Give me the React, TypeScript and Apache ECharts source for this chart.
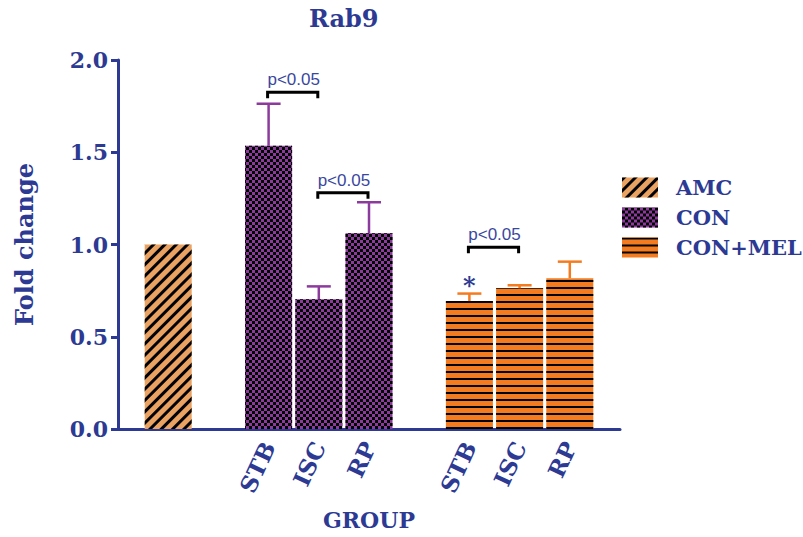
import React, { useEffect, useRef } from "react";
import * as echarts from "echarts";

// Category slots along the x axis (blank slots separate the groups)
const categories = ["", "AMC", "", "STB", "ISC", "RP", "", "STB", "ISC", "RP", ""];
const tickLabels = ["", "", "", "STB", "ISC", "RP", "", "STB", "ISC", "RP", ""];

const amcSlots = [1];
const amcMeans = [1.0];

const conSlots = [3, 4, 5];
const conMeans = [1.535, 0.703, 1.061];
const conErrors = [0.228, 0.07, 0.168];

const melSlots = [7, 8, 9];
const melMeans = [0.694, 0.763, 0.817];
const melErrors = [0.04, 0.016, 0.09];

// Significance brackets: [from slot, to slot, height]
const brackets = [
  [3, 4, 1.825],
  [4, 5, 1.281],
  [7, 8, 0.985],
];
const bracketText = "p<0.05";

// Asterisk marker: [slot, height]
const asterisks = [[7, 0.78]];

const BLUE = "#2c3a93";
const PURPLE = "#8c3a9c";
const ORANGE = "#f47b20";
const TAN = "#e9a262";
const SERIF = "'DejaVu Serif', serif";

function place(slots: number[], values: number[]) {
  const out: (number | string)[] = categories.map(() => "-");
  slots.forEach((s, i) => {
    out[s] = values[i];
  });
  return out;
}

export default function App() {
  const ref = useRef<HTMLDivElement>(null);

  useEffect(() => {
    if (!ref.current) return;
    const chart = echarts.init(ref.current, undefined, { renderer: "svg" });

    const errorRender = (color: string) => (params: any, api: any) => {
      const x = api.value(0);
      const mean = api.value(1);
      const err = api.value(2);
      const base = api.coord([x, mean]);
      const top = api.coord([x, mean + err]);
      const half = 12;
      return {
        type: "group",
        children: [
          {
            type: "line",
            shape: { x1: base[0], y1: base[1], x2: top[0], y2: top[1] },
            style: { stroke: color, lineWidth: 2.5 },
          },
          {
            type: "line",
            shape: { x1: top[0] - half, y1: top[1], x2: top[0] + half, y2: top[1] },
            style: { stroke: color, lineWidth: 2.5 },
          },
        ],
      };
    };

    const option: any = {
      animation: false,
      title: {
        text: "Rab9",
        left: 304,
        top: 1,
        textStyle: { fontFamily: SERIF, fontWeight: "bold", fontSize: 24, color: BLUE },
      },
      grid: { left: 118, right: 183, top: 60, bottom: 108 },
      legend: {
        orient: "vertical",
        left: 617,
        top: 172,
        itemWidth: 36,
        itemHeight: 20,
        itemGap: 9,
        icon: "rect",
        data: ["AMC", "CON", "CON+MEL"],
        textStyle: {
          fontFamily: SERIF,
          fontWeight: "bold",
          fontSize: 21,
          color: BLUE,
          padding: [0, 0, 0, 13],
        },
      },
      xAxis: {
        type: "category",
        data: categories,
        boundaryGap: false,
        name: "GROUP",
        nameLocation: "middle",
        nameGap: 80,
        nameTextStyle: { fontFamily: SERIF, fontWeight: "bold", fontSize: 22, color: BLUE },
        axisLine: { lineStyle: { color: BLUE, width: 3 } },
        axisTick: { show: false },
        axisLabel: {
          interval: 0,
          rotate: 65,
          margin: 14,
          fontFamily: SERIF,
          fontWeight: "bold",
          fontSize: 23,
          color: BLUE,
          formatter: (_v: string, i: number) => tickLabels[i],
        },
        splitLine: { show: false },
      },
      yAxis: {
        type: "value",
        min: 0,
        max: 2,
        interval: 0.5,
        name: "Fold change",
        nameLocation: "middle",
        nameGap: 82,
        nameTextStyle: { fontFamily: SERIF, fontWeight: "bold", fontSize: 24, color: BLUE },
        axisLine: { show: true, lineStyle: { color: BLUE, width: 3 } },
        axisTick: { show: true, length: 7, lineStyle: { color: BLUE, width: 3 } },
        axisLabel: {
          margin: 10,
          fontFamily: SERIF,
          fontWeight: "bold",
          fontSize: 22,
          color: BLUE,
          formatter: (v: number) => v.toFixed(1),
        },
        splitLine: { show: false },
      },
      series: [
        {
          name: "AMC",
          type: "bar",
          barWidth: 47,
          barGap: "-100%",
          data: place(amcSlots, amcMeans),
          itemStyle: {
            color: TAN,
            decal: {
              symbol: "rect",
              symbolSize: 1,
              color: "#000",
              dashArrayX: [1, 0],
              dashArrayY: [2.5, 4.5],
              rotation: -Math.PI / 4,
            },
          },
        },
        {
          name: "CON",
          type: "bar",
          barWidth: 47,
          barGap: "-100%",
          data: place(conSlots, conMeans),
          itemStyle: {
            color: PURPLE,
            decal: {
              symbol: "rect",
              symbolSize: 1,
              color: "#000",
              dashArrayX: [
                [3, 3],
                [0, 3, 3, 0],
              ],
              dashArrayY: [3, 0],
              rotation: 0,
            },
          },
        },
        {
          name: "CON+MEL",
          type: "bar",
          barWidth: 47,
          barGap: "-100%",
          data: place(melSlots, melMeans),
          itemStyle: {
            color: ORANGE,
            decal: {
              symbol: "rect",
              symbolSize: 1,
              color: "#000",
              dashArrayX: [1, 0],
              dashArrayY: [2, 5],
              rotation: 0,
            },
          },
        },
        {
          name: "CON error",
          type: "custom",
          encode: { x: 0, y: [1, 2] },
          data: conSlots.map((s, i) => [s, conMeans[i], conErrors[i]]),
          renderItem: errorRender(PURPLE),
          z: 5,
        },
        {
          name: "CON+MEL error",
          type: "custom",
          encode: { x: 0, y: [1, 2] },
          data: melSlots.map((s, i) => [s, melMeans[i], melErrors[i]]),
          renderItem: errorRender(ORANGE),
          z: 5,
        },
        {
          name: "brackets",
          type: "custom",
          encode: { x: [0, 1], y: 2 },
          data: brackets,
          renderItem: (params: any, api: any) => {
            const a = api.coord([api.value(0), api.value(2)]);
            const b = api.coord([api.value(1), api.value(2)]);
            const drop = 6;
            return {
              type: "group",
              children: [
                {
                  type: "polyline",
                  shape: {
                    points: [
                      [a[0] - 1, a[1] + drop],
                      [a[0] - 1, a[1]],
                      [b[0] - 1, b[1]],
                      [b[0] - 1, b[1] + drop],
                    ],
                  },
                  style: { stroke: "#000", lineWidth: 3, fill: null },
                },
                {
                  type: "text",
                  x: (a[0] + b[0]) / 2,
                  y: a[1] - 4,
                  style: {
                    text: bracketText,
                    fill: "#3a47a0",
                    font: "17px 'Liberation Sans', Arial, sans-serif",
                    textAlign: "center",
                    textVerticalAlign: "bottom",
                  },
                },
              ],
            };
          },
          z: 6,
        },
        {
          name: "asterisks",
          type: "custom",
          encode: { x: 0, y: 1 },
          data: asterisks,
          renderItem: (params: any, api: any) => {
            const p = api.coord([api.value(0), api.value(1)]);
            return {
              type: "text",
              x: p[0],
              y: p[1],
              style: {
                text: "*",
                fill: BLUE,
                font: "bold 24px 'DejaVu Serif', serif",
                textAlign: "center",
                textVerticalAlign: "middle",
              },
            };
          },
          z: 6,
        },
      ],
    };

    chart.setOption(option);
    return () => chart.dispose();
  }, []);

  return (
    <div
      ref={ref}
      style={{ position: "absolute", left: 0, top: 0, width: 803, height: 537 }}
    />
  );
}
